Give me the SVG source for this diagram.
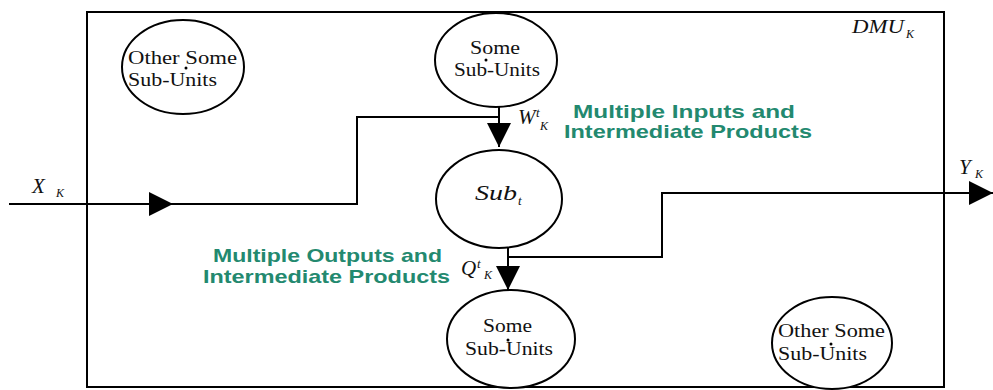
<svg xmlns="http://www.w3.org/2000/svg" width="993" height="390" viewBox="0 0 993 390">
<defs>
<style>
.ln{fill:none;stroke:#000;stroke-width:2}
.el{fill:#fff;stroke:#000;stroke-width:2}
.tn{font-family:"Liberation Serif","Times New Roman",serif;font-size:19px;fill:#111}
.it{font-family:"Liberation Serif","Times New Roman",serif;font-style:italic;fill:#111}
.gr{font-family:"Liberation Sans",Arial,sans-serif;font-weight:bold;font-size:19px;fill:#23896f}
.dot{fill:#000}
</style>
<marker id="ah" markerUnits="userSpaceOnUse" markerWidth="24" markerHeight="24" viewBox="0 0 22 22" refX="22" refY="11" orient="auto">
<path d="M0,0 L22,11 L0,22 Z" fill="#000"/>
</marker>
</defs>
<rect x="87" y="12" width="857" height="375" fill="none" stroke="#000" stroke-width="2"/>
<text class="it" x="852" y="33" font-size="19" textLength="52" lengthAdjust="spacingAndGlyphs">DMU</text>
<text class="it" x="906" y="38" font-size="12">K</text>

<g id="connectors">
<path class="ln" d="M9,204 H173" marker-end="url(#ah)"/>
<path class="ln" d="M172,204 H357 V117 H499"/>
<path class="ln" d="M499,107 V147" marker-end="url(#ah)"/>
<path class="ln" d="M508,248 V290" marker-end="url(#ah)"/>
<path class="ln" d="M508,257 H662 V193 H993" marker-end="url(#ah)"/>
</g>

<g id="labels">
<text class="it" x="32" y="193" font-size="21">X</text>
<text class="it" x="56" y="197" font-size="12">K</text>
<text class="it" x="518" y="124" font-size="21">W</text>
<text class="it" x="536" y="117" font-size="13">t</text>
<text class="it" x="540" y="130" font-size="12">K</text>
<text class="it" x="461" y="275" font-size="21">Q</text>
<text class="it" x="477" y="268" font-size="13">t</text>
<text class="it" x="484" y="279" font-size="12">K</text>
<text class="it" x="959" y="174" font-size="21">Y</text>
<text class="it" x="975" y="178" font-size="12">K</text>
<text class="gr" x="573" y="118" textLength="222" lengthAdjust="spacingAndGlyphs">Multiple Inputs and</text>
<text class="gr" x="564" y="138" textLength="248" lengthAdjust="spacingAndGlyphs">Intermediate Products</text>
<text class="gr" x="213" y="262" textLength="229" lengthAdjust="spacingAndGlyphs">Multiple Outputs and</text>
<text class="gr" x="203" y="283" textLength="247" lengthAdjust="spacingAndGlyphs">Intermediate Products</text>
</g>

<g id="node-other-top">
<ellipse class="el" cx="183" cy="67" rx="61" ry="47"/>
<text class="tn" x="128" y="64" textLength="109" lengthAdjust="spacingAndGlyphs">Other Some</text>
<text class="tn" x="128" y="86" textLength="89" lengthAdjust="spacingAndGlyphs">Sub-Units</text>
<circle class="dot" cx="186" cy="68" r="1.5"/>
</g>

<g id="node-some-top">
<ellipse class="el" cx="496" cy="60" rx="61" ry="47"/>
<text class="tn" x="470" y="54" textLength="50" lengthAdjust="spacingAndGlyphs">Some</text>
<text class="tn" x="454" y="76" textLength="86" lengthAdjust="spacingAndGlyphs">Sub-Units</text>
<circle class="dot" cx="486" cy="60" r="1.5"/>
</g>

<g id="node-sub">
<ellipse class="el" cx="499" cy="199" rx="63" ry="49"/>
<text class="it" x="475" y="200" font-size="21" textLength="42" lengthAdjust="spacingAndGlyphs">Sub</text>
<text class="it" x="518" y="205" font-size="13">t</text>
</g>

<g id="node-some-bottom">
<ellipse class="el" cx="511" cy="339" rx="64" ry="49"/>
<text class="tn" x="483" y="332" textLength="49" lengthAdjust="spacingAndGlyphs">Some</text>
<text class="tn" x="465" y="355" textLength="88" lengthAdjust="spacingAndGlyphs">Sub-Units</text>
<circle class="dot" cx="508" cy="340" r="1.5"/>
</g>

<g id="node-other-bottom">
<ellipse class="el" cx="832" cy="343" rx="60" ry="46"/>
<text class="tn" x="778" y="337" textLength="107" lengthAdjust="spacingAndGlyphs">Other Some</text>
<text class="tn" x="778" y="360" textLength="89" lengthAdjust="spacingAndGlyphs">Sub-Units</text>
<circle class="dot" cx="831" cy="344" r="1.5"/>
</g>
</svg>
